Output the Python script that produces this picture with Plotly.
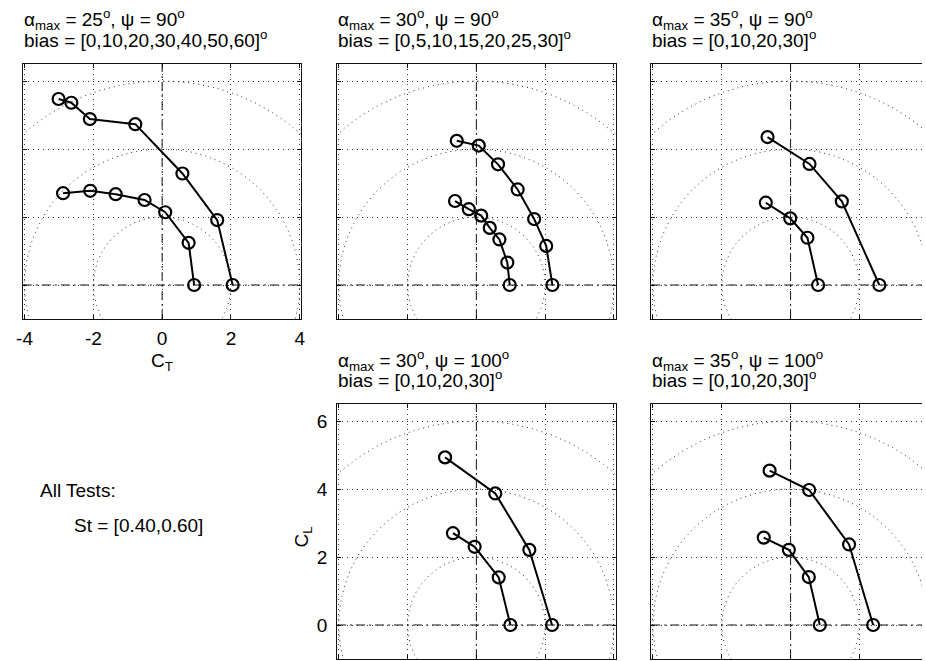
import numpy as np
import plotly.graph_objects as go

# ---- data: lift (C_L) vs thrust (C_T) for each bias sweep, two Strouhal numbers ----
# panel A: alpha_max = 25 deg, psi = 90 deg, bias 0..60 deg
A_CT_040 = [0.93, 0.77, 0.09, -0.51, -1.35, -2.09, -2.88]
A_CL_040 = [0.00, 1.24, 2.14, 2.50, 2.67, 2.77, 2.70]
A_CT_060 = [2.05, 1.60, 0.59, -0.78, -2.10, -2.64, -3.01]
A_CL_060 = [0.00, 1.91, 3.28, 4.73, 4.88, 5.36, 5.47]

# panel B: alpha_max = 30 deg, psi = 90 deg, bias 0..30 deg (step 5)
B_CT_040 = [0.97, 0.90, 0.67, 0.39, 0.14, -0.22, -0.62]
B_CL_040 = [0.00, 0.66, 1.34, 1.68, 2.04, 2.23, 2.47]
B_CT_060 = [2.21, 2.03, 1.68, 1.20, 0.63, 0.07, -0.57]
B_CL_060 = [0.00, 1.15, 1.94, 2.81, 3.55, 4.10, 4.24]

# panel C: alpha_max = 35 deg, psi = 90 deg, bias 0..30 deg
C_CT_040 = [0.80, 0.49, -0.01, -0.72]
C_CL_040 = [0.00, 1.39, 1.96, 2.42]
C_CT_060 = [2.58, 1.49, 0.55, -0.67]
C_CL_060 = [0.00, 2.46, 3.56, 4.35]

# panel D: alpha_max = 30 deg, psi = 100 deg, bias 0..30 deg
D_CT_040 = [0.99, 0.65, -0.05, -0.68]
D_CL_040 = [0.00, 1.40, 2.30, 2.70]
D_CT_060 = [2.20, 1.54, 0.55, -0.91]
D_CL_060 = [0.00, 2.21, 3.87, 4.93]

# panel E: alpha_max = 35 deg, psi = 100 deg, bias 0..30 deg
E_CT_040 = [0.85, 0.53, -0.05, -0.78]
E_CL_040 = [0.00, 1.41, 2.21, 2.57]
E_CT_060 = [2.40, 1.70, 0.54, -0.61]
E_CL_060 = [0.00, 2.37, 3.97, 4.54]

TITLE_LINE1 = [
    "α<sub>max</sub> = 25<sup>o</sup>, ψ = 90<sup>o</sup>",
    "α<sub>max</sub> = 30<sup>o</sup>, ψ = 90<sup>o</sup>",
    "α<sub>max</sub> = 35<sup>o</sup>, ψ = 90<sup>o</sup>",
    "α<sub>max</sub> = 30<sup>o</sup>, ψ = 100<sup>o</sup>",
    "α<sub>max</sub> = 35<sup>o</sup>, ψ = 100<sup>o</sup>",
]
TITLE_LINE2 = [
    "bias = [0,10,20,30,40,50,60]<sup>o</sup>",
    "bias = [0,5,10,15,20,25,30]<sup>o</sup>",
    "bias = [0,10,20,30]<sup>o</sup>",
    "bias = [0,10,20,30]<sup>o</sup>",
    "bias = [0,10,20,30]<sup>o</sup>",
]

X_TICKS = [-4, -2, 0, 2, 4]
X_TICK_TEXT = ["-4", "-2", "0", "2", "4"]
Y_TICKS = [0, 2, 4, 6]
Y_TICK_TEXT = ["0", "2", "4", "6"]
GUIDE_RADII = [2, 4, 6]

# ---- layout geometry (pixels) ----
W, H = 926, 661
XLIM = (-4.05, 4.05)
YLIM = (-1.0, 6.5)
FULL_W = 282  # pixel width of an uncropped axes box
# (left, right, top, bottom) of each axes box
BOXES = [
    (16, 298, 64, 319),
    (334, 616, 64, 319),
    (652, 926, 64, 319),
    (334, 616, 404, 659),
    (652, 926, 404, 659),
]

FONT = "Liberation Sans, Arial, Helvetica, sans-serif"
INK = "#111111"
GRID = "#333333"
DOTS = "1px,4px"
DASHDOT = "9px,4px,2px,4px"

series = [
    (A_CT_040, A_CL_040, A_CT_060, A_CL_060),
    (B_CT_040, B_CL_040, B_CT_060, B_CL_060),
    (C_CT_040, C_CL_040, C_CT_060, C_CL_060),
    (D_CT_040, D_CL_040, D_CT_060, D_CL_060),
    (E_CT_040, E_CL_040, E_CT_060, E_CL_060),
]

fig = go.Figure()
theta = np.linspace(0, 2 * np.pi, 721)
shapes = []
annotations = []
layout_axes = {}


def label(text, x, y, **kw):
    return dict(text=text, xref="paper", yref="paper", x=x / W, y=1 - y / H,
                showarrow=False, borderpad=0,
                font=dict(family=FONT, size=19, color="black"), **kw)


for i, (box, data) in enumerate(zip(BOXES, series)):
    n = i + 1
    sx = "" if n == 1 else str(n)
    xa, ya = "x" + sx, "y" + sx
    left, right, top, bottom = box
    cropped = right >= W

    # dotted circles of constant resultant force coefficient
    for r in GUIDE_RADII:
        fig.add_trace(go.Scatter(
            x=r * np.cos(theta), y=r * np.sin(theta), mode="lines",
            line=dict(color=GRID, width=1, dash=DOTS),
            hoverinfo="skip", showlegend=False, xaxis=xa, yaxis=ya))

    ct_lo, cl_lo, ct_hi, cl_hi = data
    for ct, cl, name in ((ct_lo, cl_lo, "St = 0.40"), (ct_hi, cl_hi, "St = 0.60")):
        fig.add_trace(go.Scatter(
            x=ct, y=cl, mode="lines+markers", name=name,
            line=dict(color="black", width=2),
            marker=dict(symbol="circle-open", size=12, color="black",
                        line=dict(width=2.2, color="black")),
            showlegend=False, xaxis=xa, yaxis=ya))

    # dash-dot reference axes through the origin
    shapes.append(dict(type="line", xref=xa + " domain", x0=0, x1=1,
                       yref=ya, y0=0, y1=0, layer="below",
                       line=dict(color=INK, width=1, dash=DASHDOT)))
    shapes.append(dict(type="line", xref=xa, x0=0, x1=0,
                       yref=ya + " domain", y0=0, y1=1, layer="below",
                       line=dict(color=INK, width=1, dash=DASHDOT)))

    x_hi = XLIM[0] + (right - left) / FULL_W * (XLIM[1] - XLIM[0])
    common = dict(
        ticks="inside", ticklen=4, tickcolor=INK, tickwidth=1,
        showline=True, linecolor=INK, linewidth=1,
        showgrid=True, gridcolor=GRID, gridwidth=1, griddash=DOTS,
        zeroline=False, fixedrange=True,
        tickfont=dict(family=FONT, size=19, color="black"),
    )
    layout_axes["xaxis" + sx] = dict(
        common, domain=[left / W, right / W], range=[XLIM[0], x_hi],
        anchor=ya, tickmode="array", tickvals=X_TICKS, ticktext=X_TICK_TEXT,
        mirror="ticks", showticklabels=(n == 1), ticklabelstandoff=2)
    layout_axes["yaxis" + sx] = dict(
        common, domain=[1 - bottom / H, 1 - top / H], range=list(YLIM),
        anchor=xa, tickmode="array", tickvals=Y_TICKS, ticktext=Y_TICK_TEXT,
        mirror=(False if cropped else "ticks"), showticklabels=(n == 4),
        ticklabelstandoff=5)

    # two-line panel heading
    annotations.append(label(TITLE_LINE1[i], left, top - 44,
                             xanchor="left", yanchor="middle"))
    annotations.append(label(TITLE_LINE2[i], left, top - 25,
                             xanchor="left", yanchor="middle"))

# axis labels
annotations.append(label("C<sub>T</sub>", 157, 362,
                         xanchor="center", yanchor="middle"))
annotations.append(label("C<sub>L</sub>", 300, 537, textangle=-90,
                         xanchor="center", yanchor="middle"))

# test conditions note
annotations.append(label("All Tests:", 32, 490, xanchor="left", yanchor="middle"))
annotations.append(label("St = [0.40,0.60]", 67, 525, xanchor="left", yanchor="middle"))

fig.update_layout(
    width=W, height=H,
    margin=dict(l=0, r=0, t=0, b=0),
    paper_bgcolor="white", plot_bgcolor="white",
    showlegend=False,
    shapes=shapes,
    annotations=annotations,
    **layout_axes,
)

fig.write_html("out.html")
